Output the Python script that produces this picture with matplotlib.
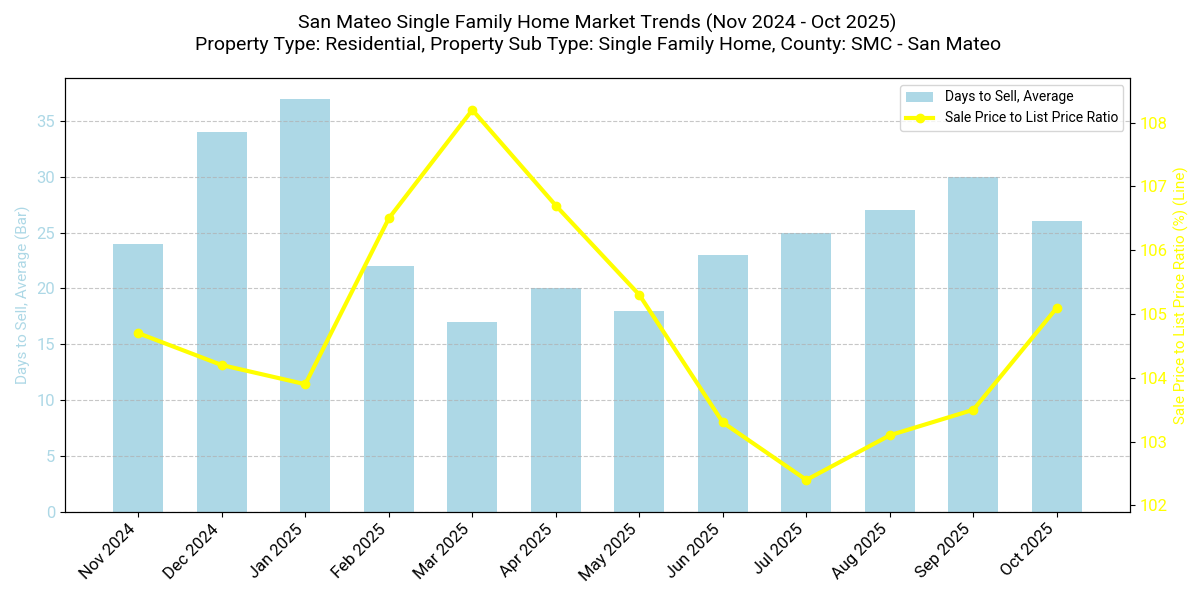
import matplotlib
matplotlib.use('Agg')
import matplotlib.pyplot as plt
import numpy as np

plt.rcParams['font.family'] = ['Roboto', 'DejaVu Sans']

months = ['Nov 2024', 'Dec 2024', 'Jan 2025', 'Feb 2025', 'Mar 2025', 'Apr 2025',
          'May 2025', 'Jun 2025', 'Jul 2025', 'Aug 2025', 'Sep 2025', 'Oct 2025']
days_to_sell = [24, 34, 37, 22, 17, 20, 18, 23, 25, 27, 30, 26]
sale_to_list = [104.7, 104.2, 103.9, 106.5, 108.2, 106.7, 105.3, 103.3, 102.4, 103.1, 103.5, 105.1]

bar_color = '#add8e6'
line_color = '#ffff00'

fig, ax1 = plt.subplots(figsize=(12, 6), dpi=100)
x = np.arange(len(months))

bars = ax1.bar(x, days_to_sell, width=0.6, color=bar_color, label='Days to Sell, Average')
ax1.set_ylabel('Days to Sell, Average (Bar)', color=bar_color, fontsize=11)
ax1.tick_params(axis='y', labelcolor=bar_color, labelsize=12)
ax1.set_ylim(0, max(days_to_sell) * 1.05)
ax1.set_xticks(x)
ax1.set_xticklabels(months, rotation=45, ha='right', fontsize=12)
ax1.grid(axis='y', linestyle='--', alpha=0.7)

ax2 = ax1.twinx()
line, = ax2.plot(x, sale_to_list, color=line_color, marker='o', linewidth=3,
                 markersize=6, label='Sale Price to List Price Ratio')
ax2.set_ylabel('Sale Price to List Price Ratio (%) (Line)', color=line_color, fontsize=11)
ax2.tick_params(axis='y', labelcolor=line_color, labelsize=12)
ax2.set_ylim(min(sale_to_list) - 0.5, max(sale_to_list) + 0.5)

ax1.legend([bars, line], [bars.get_label(), line.get_label()], loc='upper right', fontsize=10)

plt.title('San Mateo Single Family Home Market Trends (Nov 2024 - Oct 2025)\n'
          'Property Type: Residential, Property Sub Type: Single Family Home, County: SMC - San Mateo',
          fontsize=14, pad=20)
plt.subplots_adjust(left=0.054, right=0.942, top=0.87, bottom=0.147)
plt.savefig('out.png')
plt.close()
